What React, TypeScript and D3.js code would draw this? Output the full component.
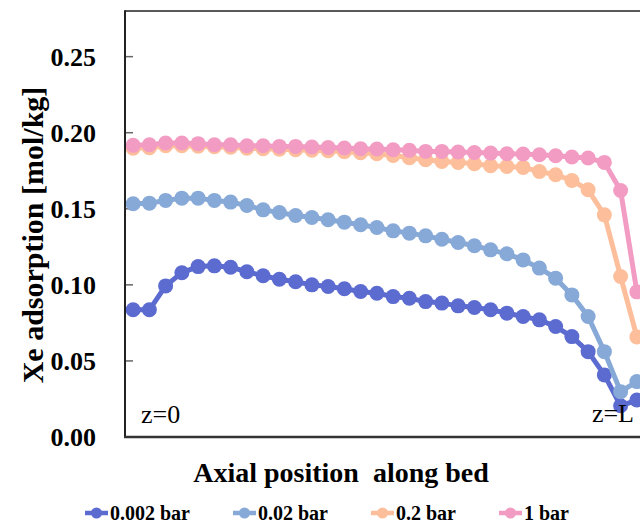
import { useEffect, useRef } from "react";
import * as d3 from "d3";

// series, one value per axial node (z=0 .. z=L)
const seriesNames = ["0.002 bar", "0.02 bar", "0.2 bar", "1 bar"];
const seriesColors = ["#5c6bd0", "#87a9d7", "#fdbf9b", "#f29cc3"];

const p0002 = [0.0836, 0.0836, 0.0993, 0.108, 0.112, 0.1125, 0.1116, 0.1086, 0.106, 0.1037, 0.102, 0.1, 0.0989, 0.0974, 0.0956, 0.0945, 0.0923, 0.0912, 0.089, 0.088, 0.0862, 0.0851, 0.0836, 0.0814, 0.0792, 0.077, 0.0726, 0.066, 0.0561, 0.0408, 0.0205, 0.0243];
const p002 = [0.1533, 0.1537, 0.1555, 0.157, 0.157, 0.1555, 0.1544, 0.1522, 0.1493, 0.1476, 0.1456, 0.1443, 0.1428, 0.1412, 0.1395, 0.1377, 0.1355, 0.134, 0.1322, 0.13, 0.1278, 0.1257, 0.123, 0.1204, 0.1164, 0.111, 0.1044, 0.0934, 0.0792, 0.0561, 0.0298, 0.0364];
const p02 = [0.1898, 0.1901, 0.1914, 0.1914, 0.1911, 0.1908, 0.1905, 0.1898, 0.1895, 0.1891, 0.1888, 0.1885, 0.1882, 0.1875, 0.1868, 0.1862, 0.185, 0.1836, 0.1822, 0.1811, 0.1805, 0.1796, 0.1783, 0.1778, 0.1772, 0.1745, 0.1724, 0.1686, 0.1625, 0.146, 0.1055, 0.0658];
const p1 = [0.1917, 0.1921, 0.1932, 0.1932, 0.1928, 0.1921, 0.1921, 0.1914, 0.1914, 0.191, 0.191, 0.1906, 0.1903, 0.19, 0.1895, 0.1893, 0.1888, 0.1884, 0.1877, 0.1877, 0.1873, 0.187, 0.1866, 0.1862, 0.186, 0.1855, 0.1849, 0.184, 0.1834, 0.1805, 0.162, 0.0954];

const yTicks = [0, 0.05, 0.1, 0.15, 0.2, 0.25];

const serif = "Liberation Serif, serif";

const App = () => {
  const svgRef = useRef<SVGSVGElement>(null);

  useEffect(() => {
    const W = 640;
    const H = 524;
    const left = 125;
    const right = 645; // plot runs a little past the picture edge
    const top = 11;
    const bottom = 437;

    const svg = d3.select(svgRef.current);
    svg.selectAll("*").remove();
    svg.attr("width", W).attr("height", H).attr("font-family", serif);

    const all = [p0002, p002, p02, p1];

    const x = d3
      .scalePoint<number>()
      .domain(d3.range(p0002.length))
      .range([left, right])
      .padding(0.5);

    const y = d3.scaleLinear().domain([0, 0.28]).range([bottom, top]);

    // y ticks (inside) + labels
    const yAxis = svg.append("g");
    yAxis
      .selectAll("line")
      .data(yTicks.filter((d) => d > 0))
      .enter()
      .append("line")
      .attr("x1", left)
      .attr("x2", left + 8)
      .attr("y1", (d) => y(d))
      .attr("y2", (d) => y(d))
      .attr("stroke", "#666")
      .attr("stroke-width", 1.5);

    yAxis
      .selectAll("text")
      .data(yTicks)
      .enter()
      .append("text")
      .attr("x", 96)
      .attr("y", (d) => y(d))
      .attr("dy", "0.35em")
      .attr("text-anchor", "end")
      .attr("font-weight", "bold")
      .attr("font-size", 26)
      .attr("fill", "#000")
      .text((d) => d.toFixed(2));

    // series
    const line = d3
      .line<number>()
      .x((d, i) => x(i) as number)
      .y((d) => y(d));

    all.forEach((vals, k) => {
      const g = svg.append("g");
      g.append("path")
        .datum(vals)
        .attr("d", line)
        .attr("fill", "none")
        .attr("stroke", seriesColors[k])
        .attr("stroke-width", 5)
        .attr("stroke-linejoin", "round");
      g.selectAll("circle")
        .data(vals)
        .enter()
        .append("circle")
        .attr("cx", (d, i) => x(i) as number)
        .attr("cy", (d) => y(d))
        .attr("r", 7.5)
        .attr("fill", seriesColors[k]);
    });

    // frame
    svg
      .append("line")
      .attr("x1", left)
      .attr("x2", right)
      .attr("y1", top)
      .attr("y2", top)
      .attr("stroke", "#222")
      .attr("stroke-width", 1.5);
    svg
      .append("line")
      .attr("x1", left)
      .attr("x2", left)
      .attr("y1", top - 0.75)
      .attr("y2", bottom)
      .attr("stroke", "#222")
      .attr("stroke-width", 2);
    svg
      .append("line")
      .attr("x1", left - 1)
      .attr("x2", right)
      .attr("y1", bottom)
      .attr("y2", bottom)
      .attr("stroke", "#333")
      .attr("stroke-width", 2.5);

    // z labels
    svg
      .append("text")
      .attr("x", 141)
      .attr("y", 423)
      .attr("font-size", 26)
      .text("z=0");
    svg
      .append("text")
      .attr("x", 634)
      .attr("y", 422)
      .attr("text-anchor", "end")
      .attr("font-size", 26)
      .text("z=L");

    // axis titles
    svg
      .append("text")
      .attr("x", 341)
      .attr("y", 482)
      .attr("text-anchor", "middle")
      .attr("font-weight", "bold")
      .attr("font-size", 28)
      .text("Axial position\u2002along bed");
    svg
      .append("text")
      .attr("transform", "translate(43,235) rotate(-90)")
      .attr("text-anchor", "middle")
      .attr("font-weight", "bold")
      .attr("font-size", 30)
      .text("Xe adsorption [mol/kg]");

    // legend
    const legend = svg.append("g");
    let lx = 85;
    seriesNames.forEach((name, k) => {
      const item = legend.append("g");
      item
        .append("line")
        .attr("x1", lx)
        .attr("x2", lx + 23)
        .attr("y1", 513)
        .attr("y2", 513)
        .attr("stroke", seriesColors[k])
        .attr("stroke-width", 4.5);
      item
        .append("circle")
        .attr("cx", lx + 11.5)
        .attr("cy", 513)
        .attr("r", 5.5)
        .attr("fill", seriesColors[k]);
      const t = item
        .append("text")
        .attr("x", lx + 25)
        .attr("y", 520)
        .attr("font-weight", "bold")
        .attr("font-size", 20)
        .text(name);
      const w = (t.node() as SVGTextElement).getComputedTextLength();
      lx += 25 + w + 43;
    });
  }, []);

  return (
    <div style={{ position: "absolute", left: 0, top: 0 }}>
      <svg ref={svgRef} style={{ display: "block", background: "#fff" }}></svg>
    </div>
  );
};

export default App;
